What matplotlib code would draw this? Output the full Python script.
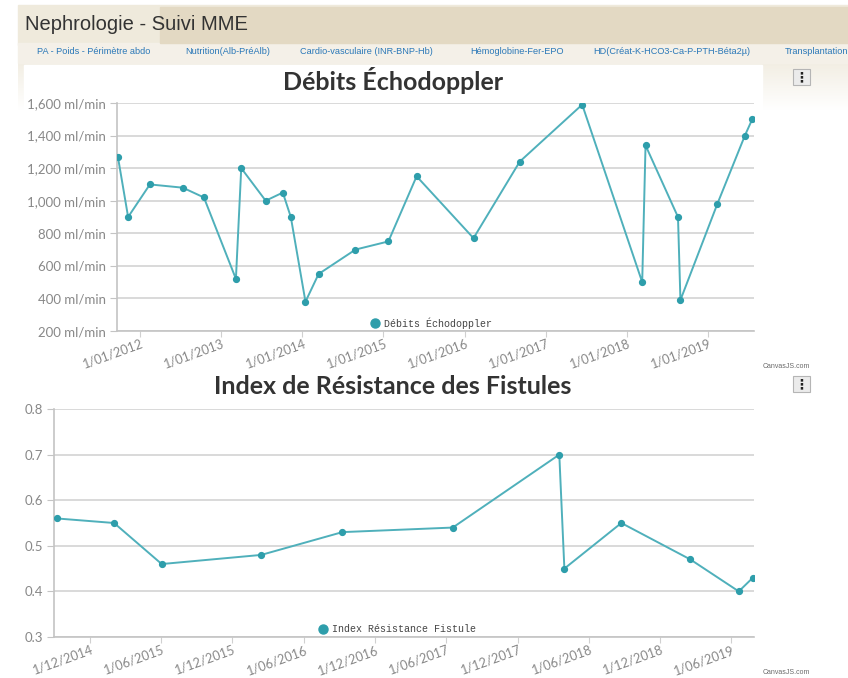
import numpy as np
import pandas as pd
import matplotlib
matplotlib.use("Agg")
import matplotlib.pyplot as plt
from matplotlib.patches import Rectangle
from matplotlib.colors import LinearSegmentedColormap

## donnees ##
debit_dates = ["2011-09-24", "2011-11-09", "2012-02-15", "2012-07-12", "2012-10-15",
               "2013-03-08", "2013-04-01", "2013-07-20", "2013-10-05", "2013-11-10",
               "2014-01-15", "2014-03-15", "2014-08-28", "2015-01-23", "2015-05-30",
               "2016-02-10", "2016-09-05", "2017-06-13", "2018-03-10", "2018-03-25",
               "2018-08-18", "2018-08-29", "2019-02-11", "2019-06-15", "2019-07-18"]
debit_vals = [1270, 900, 1100, 1080, 1020,
              520, 1200, 1000, 1050, 900,
              380, 550, 700, 750, 1150,
              770, 1240, 1590, 500, 1340,
              900, 390, 980, 1400, 1500]

ir_dates = ["2014-09-07", "2015-02-01", "2015-06-03", "2016-02-13", "2016-09-08",
            "2017-06-18", "2018-03-18", "2018-03-31", "2018-08-24", "2019-02-17",
            "2019-06-21", "2019-07-27"]
ir_vals = [0.56, 0.55, 0.46, 0.48, 0.53, 0.54, 0.70, 0.45, 0.55, 0.47, 0.40, 0.43]

debit_ticks = ["2012-01-01", "2013-01-01", "2014-01-01", "2015-01-01",
               "2016-01-01", "2017-01-01", "2018-01-01", "2019-01-01"]
ir_ticks = ["2014-12-01", "2015-06-01", "2015-12-01", "2016-06-01", "2016-12-01",
            "2017-06-01", "2017-12-01", "2018-06-01", "2018-12-01", "2019-06-01"]

menu = ["PA - Poids - Périmètre abdo", "Nutrition(Alb-PréAlb)",
        "Cardio-vasculaire (INR-BNP-Hb)", "Hémoglobine-Fer-EPO",
        "HD(Créat-K-HCO3-Ca-P-PTH-Béta2µ)", "Transplantation"]
menu_x = [37, 185, 300, 470, 593, 785]

W, H = 848, 678
LINE = "#4fb0bb"
MARK = "#2e9eab"
GRID = "#cfcfcf"
LAB = "#888888"

fig = plt.figure(figsize=(W / 100, H / 100), dpi=100)
fig.patch.set_facecolor("white")

## fond de page (coordonnees en pixels) ##
bg = fig.add_axes([0, 0, 1, 1], zorder=0)
bg.set_xlim(0, W)
bg.set_ylim(H, 0)
bg.axis("off")
grad = np.linspace(0, 1, 100).reshape(-1, 1)
cm = LinearSegmentedColormap.from_list("b", ["#ede7d8", "#ffffff"])
bg.imshow(grad, extent=(18, W, 110, 44), cmap=cm, aspect="auto", zorder=0)
bg.add_patch(Rectangle((18, 5), W - 18, 40, color="#efeadc", zorder=1))
bg.add_patch(Rectangle((160, 7), W - 160, 36, color="#e3d9c3", zorder=2))
bg.add_patch(Rectangle((18, 43), W - 18, 20, color="#f4f0e8", zorder=1))
bg.add_patch(Rectangle((24, 65), 738, 300, color="white", zorder=3))
bg.add_patch(Rectangle((24, 368), 738, 306, color="white", zorder=3))
bg.text(25, 25, "Nephrologie - Suivi MME", fontsize=14.5, color="#333333",
        family="Liberation Sans", va="center", zorder=4)
for m, x in zip(menu, menu_x):
    bg.text(x, 51, m, fontsize=6.6, color="#2a78b8",
            family="Liberation Sans", va="center", zorder=4)

# boutons menu et credits
for yb, yc in [(69, 367), (376, 672)]:
    bg.add_patch(Rectangle((793, yb), 17, 16, facecolor="#ebebeb",
                           edgecolor="#b5b5b5", lw=0.8, zorder=4))
    bg.text(801.5, yb + 8, "\u22ee", fontsize=10, fontweight="bold", color="#222222",
            ha="center", va="center", family="DejaVu Sans", zorder=5)
    bg.text(810, yc, "CanvasJS.com", fontsize=5, color="#6a6a6a",
            ha="right", va="center", family="Liberation Sans", zorder=4)


def chart(box, dates, vals, ylim, yticks, ylabels, xticks, xlabels, title, legend, leg_x, leg_y, xlim):
    l, t, r, b = box
    ax = fig.add_axes([l / W, 1 - b / H, (r - l) / W, (b - t) / H], zorder=5)
    ax.patch.set_alpha(0)
    d = pd.to_datetime(dates)
    ax.plot(d, vals, color=LINE, lw=1.4, zorder=3)
    ax.plot(d, vals, "o", color=MARK, ms=4.2, zorder=4)
    ax.set_ylim(*ylim)
    ax.set_yticks(yticks)
    ax.set_yticklabels(ylabels)
    ax.set_xticks(pd.to_datetime(xticks))
    ax.set_xticklabels(xlabels, rotation=20, ha="right", rotation_mode="anchor")
    ax.set_xlim(pd.to_datetime(xlim[0]), pd.to_datetime(xlim[1]))
    ax.grid(axis="y", color=GRID, lw=1.1)
    ax.set_axisbelow(True)
    for s in ["top", "right"]:
        ax.spines[s].set_visible(False)
    for s in ["left", "bottom"]:
        ax.spines[s].set_color("#c4c4c4")
        ax.spines[s].set_linewidth(1.2)
    ax.tick_params(axis="y", colors="#c4c4c4", labelcolor=LAB, labelsize=9.5, length=5, pad=3)
    ax.tick_params(axis="x", colors="#d0d0d0", labelcolor=LAB, labelsize=9.2, length=4, pad=1)
    for lab in ax.get_xticklabels() + ax.get_yticklabels():
        lab.set_family("Lato")
    fig.text(393 / W, 1 - t / H + 22 / H, title, fontsize=18, fontweight="bold",
             color="#333333", ha="center", va="center", family="Lato")
    bg.plot([leg_x], [leg_y], "o", color=MARK, ms=6.5, zorder=6)
    bg.text(leg_x + 9, leg_y, legend, fontsize=7.2, color="#444444",
            family="Liberation Mono", va="center", zorder=6)
    return ax


ax1 = chart((117, 103, 754, 331), debit_dates, debit_vals, (200, 1600),
            list(range(200, 1601, 200)),
            ["{:,} ml/min".format(v) for v in range(200, 1601, 200)],
            debit_ticks, ["1/01/" + s[:4] for s in debit_ticks],
            "Débits Échodoppler", "Débits Échodoppler", 375, 323,
            ("2011-09-20", "2019-07-26"))

ax2 = chart((54, 409, 754, 637), ir_dates, ir_vals, (0.3, 0.8),
            [0.3, 0.4, 0.5, 0.6, 0.7, 0.8],
            ["0.3", "0.4", "0.5", "0.6", "0.7", "0.8"],
            ir_ticks, ["1/" + s[5:7] + "/" + s[:4] for s in ir_ticks],
            "Index de Résistance des Fistules", "Index Résistance Fistule", 323, 629,
            ("2014-08-31", "2019-07-30"))

fig.savefig("out.png", dpi=100)
